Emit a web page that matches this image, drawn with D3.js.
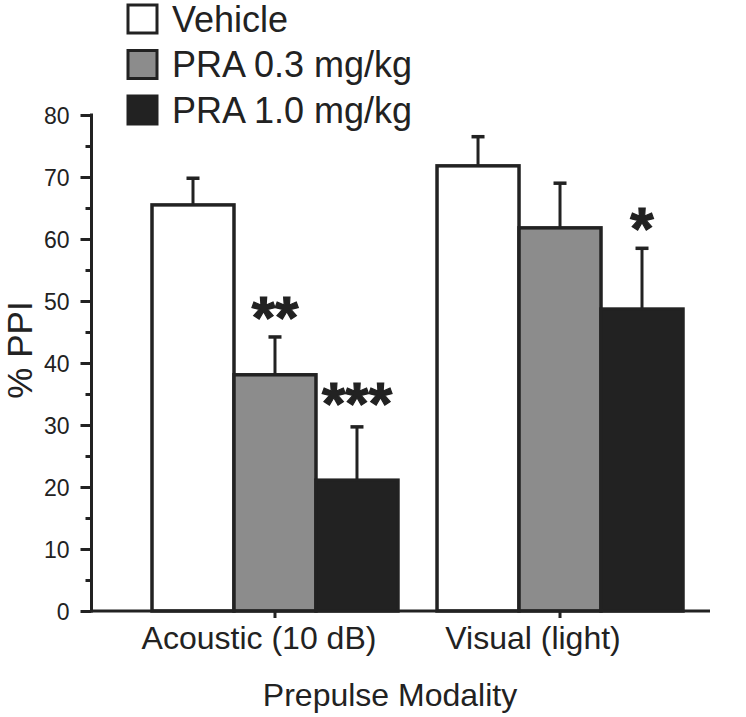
<!DOCTYPE html>
<html><head><meta charset="utf-8">
<script src="https://cdn.jsdelivr.net/npm/d3@7"></script>
<style>body{margin:0;background:#fff}svg{display:block}text{font-family:"Liberation Sans",Arial,sans-serif;fill:#222}</style>
</head><body>
<svg id="c" width="746" height="717"></svg>
<script>
const categories = ["Acoustic (10 dB)", "Visual (light)"];
const series = ["Vehicle", "PRA 0.3 mg/kg", "PRA 1.0 mg/kg"];
const means = {
  "Vehicle":       [65.5, 71.8],
  "PRA 0.3 mg/kg": [38.1, 61.8],
  "PRA 1.0 mg/kg": [21.1, 48.7]
};
const errs = {
  "Vehicle":       [4.3, 4.7],
  "PRA 0.3 mg/kg": [6.1, 7.2],
  "PRA 1.0 mg/kg": [8.6, 9.8]
};
const stars = {
  "Vehicle":       ["", ""],
  "PRA 0.3 mg/kg": ["**", ""],
  "PRA 1.0 mg/kg": ["***", "*"]
};
const yTicks = [0, 10, 20, 30, 40, 50, 60, 70, 80];
const yMinor = [5, 15, 25, 35, 45, 55, 65, 75];
const fills = ["#ffffff", "#8c8c8c", "#222222"];

const ink = "#222";
const svg = d3.select("#c");
const y = d3.scaleLinear().domain([0, 80]).range([611, 115]);
const x0 = d3.scaleBand().domain(categories).range([152, 683]).paddingInner(0.137);
const x1 = d3.scaleBand().domain(series).range([0, x0.bandwidth()]);
const color = d3.scaleOrdinal().domain(series).range(fills);

const axisX = 91.5;

const data = [];
categories.forEach((c, ci) => series.forEach(s => data.push({c, s, v: means[s][ci], e: errs[s][ci], st: stars[s][ci]})));

const g = svg.append("g");
// error bars (upper only)
g.selectAll(".eb").data(data).enter().append("line")
  .attr("x1", d => x0(d.c) + x1(d.s) + x1.bandwidth()/2)
  .attr("x2", d => x0(d.c) + x1(d.s) + x1.bandwidth()/2)
  .attr("y1", d => y(d.v)).attr("y2", d => y(d.v + d.e))
  .attr("stroke", ink).attr("stroke-width", 3);
g.selectAll(".cap").data(data).enter().append("line")
  .attr("x1", d => x0(d.c) + x1(d.s) + x1.bandwidth()/2 - 6.5)
  .attr("x2", d => x0(d.c) + x1(d.s) + x1.bandwidth()/2 + 6.5)
  .attr("y1", d => y(d.v + d.e)).attr("y2", d => y(d.v + d.e))
  .attr("stroke", ink).attr("stroke-width", 3.5);
g.selectAll("rect.bar").data(data).enter().append("rect")
  .attr("x", d => x0(d.c) + x1(d.s))
  .attr("y", d => y(d.v))
  .attr("width", x1.bandwidth())
  .attr("height", d => y(0) - y(d.v))
  .attr("fill", d => color(d.s))
  .attr("stroke", ink).attr("stroke-width", 3.5);

// significance stars
g.selectAll(".star").data(data.filter(d => d.st)).enter().append("text")
  .attr("x", d => x0(d.c) + x1(d.s) + x1.bandwidth()/2)
  .attr("y", d => y(d.v + d.e) + (d.st.length === 3 ? -3 : 1))
  .attr("text-anchor", "middle")
  .style("font-size", "60px").style("font-weight", "bold")
  .attr("stroke", ink).attr("stroke-width", 1.2)
  .text(d => d.st);

// y axis
const yAxis = d3.axisLeft(y).tickValues(yTicks).tickSize(11).tickPadding(11).tickFormat(d3.format("d"));
const ya = svg.append("g").attr("transform", `translate(${axisX},0)`).call(yAxis);
ya.select(".domain").remove();
ya.selectAll(".tick line").attr("stroke", ink).attr("stroke-width", 3);
ya.selectAll(".tick text").style("font-size", "23px").style("font-family", '"Liberation Sans",Arial,sans-serif').attr("fill", ink).attr("dy", "0.36em");
const yAxisMinor = d3.axisLeft(y).tickValues(yMinor).tickSize(6).tickFormat("");
const ym = svg.append("g").attr("transform", `translate(${axisX},0)`).call(yAxisMinor);
ym.select(".domain").remove();
ym.selectAll(".tick line").attr("stroke", ink).attr("stroke-width", 3);
svg.append("line").attr("x1", axisX).attr("x2", axisX).attr("y1", y(80) - 1.5).attr("y2", y(0) + 1.5)
  .attr("stroke", ink).attr("stroke-width", 3);

// x axis
svg.append("line").attr("x1", axisX).attr("x2", 710).attr("y1", y(0)).attr("y2", y(0))
  .attr("stroke", ink).attr("stroke-width", 3);
const xa = svg.append("g").attr("transform", `translate(0,${y(0)})`)
  .call(d3.axisBottom(x0).tickSize(7).tickPadding(8));
xa.select(".domain").remove();
xa.selectAll(".tick line").attr("stroke", ink).attr("stroke-width", 3);
xa.selectAll(".tick text").style("font-size", "32px").style("font-family", '"Liberation Sans",Arial,sans-serif').attr("fill", ink)
  .attr("dx", (d, i) => i === 0 ? -16 : -27);

// axis titles
svg.append("text").attr("x", 390).attr("y", 706).attr("text-anchor", "middle")
  .style("font-size", "32px").text("Prepulse Modality");
svg.append("text").attr("transform", `translate(32,350) rotate(-90)`).attr("text-anchor", "middle")
  .style("font-size", "35px").text("% PPI");

// legend
const lg = svg.append("g").selectAll("g").data(series).enter().append("g")
  .attr("transform", (d, i) => `translate(128,${5 + i * 45.5})`);
lg.append("rect").attr("width", 29).attr("height", 28).attr("fill", d => color(d))
  .attr("stroke", ink).attr("stroke-width", 3);
lg.append("text").attr("x", 44).attr("y", 14).attr("dy", "0.36em")
  .style("font-size", "36px").text(d => d);
</script>
</body></html>
